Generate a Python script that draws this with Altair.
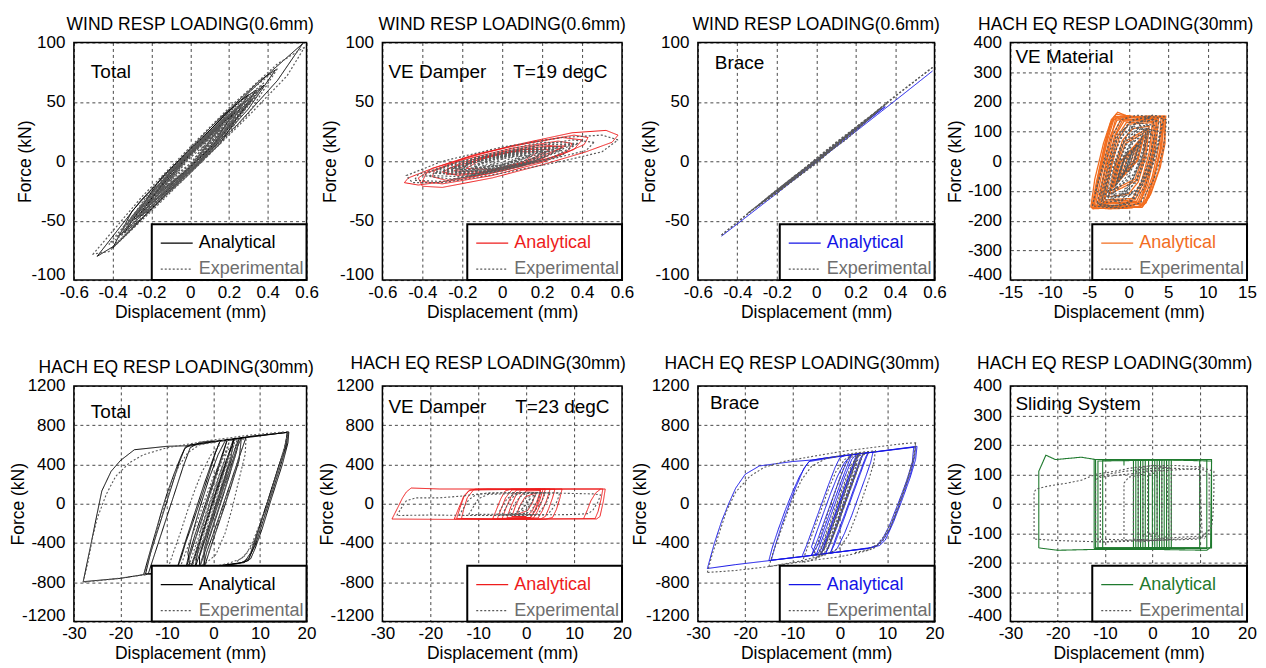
import altair as alt
import pandas as pd

FONT = "Liberation Sans"
SERIES = ["Analytical", "Experimental"]
EXP_GRAY = "#595959"
EXP_TEXT = "#6e6e6e"

# ---------------- axis ticks ----------------
X_WIND = [-0.6, -0.4, -0.2, 0, 0.2, 0.4, 0.6]
Y_WIND = [-100, -50, 0, 50, 100]
X_MAT = [-15, -10, -5, 0, 5, 10, 15]
Y_400 = [-400, -300, -200, -100, 0, 100, 200, 300, 400]
X_EQ = [-30, -20, -10, 0, 10, 20]
Y_EQ = [-1200, -800, -400, 0, 400, 800, 1200]

# ---------------- Panel 1: Total, wind ----------------
WIND_TOTAL_ANA = [
    [(0.58, 99), (0.42, 76), (0.2, 42), (0, 10), (-0.25, -32), (-0.48, -80), (-0.40, -72), (-0.2, -40), (0, -8), (0.25, 32), (0.45, 68), (0.58, 99)],
    [(0.44, 77), (0.36, 68), (0.15, 36), (-0.1, -6), (-0.3, -42), (-0.40, -73), (-0.33, -62), (-0.1, -24), (0.1, 8), (0.3, 44), (0.44, 77)],
    [(0.34, 60), (0.25, 50), (0.05, 18), (-0.15, -14), (-0.34, -60), (-0.25, -48), (-0.05, -16), (0.15, 14), (0.34, 60)],
    [(0.30, 56), (0.18, 40), (0, 8), (-0.2, -26), (-0.30, -50), (-0.2, -40), (0, -8), (0.18, 24), (0.30, 56)],
    [(0.26, 48), (0.1, 24), (-0.1, -10), (-0.26, -44), (-0.1, -22), (0.1, 12), (0.26, 48)],
    [(0.22, 40), (0.05, 14), (-0.12, -13), (-0.22, -36), (-0.05, -12), (0.12, 14), (0.22, 40)],
    [(0.16, 30), (0, 6), (-0.16, -26), (0, -5), (0.16, 30)],
    [(0.32, 52), (0.12, 26), (-0.08, -8), (-0.28, -48), (-0.1, -20), (0.1, 10), (0.32, 52)],
    [(0.38, 64), (0.2, 38), (0, 6), (-0.2, -30), (-0.36, -62), (-0.2, -38), (0, -6), (0.2, 28), (0.38, 64)],
]
WIND_TOTAL_EXP = [
    [(0.59, 96), (0.45, 82), (0.2, 45), (0, 12), (-0.25, -30), (-0.50, -78), (-0.42, -76), (-0.2, -42), (0, -10), (0.3, 38), (0.5, 72), (0.59, 96)],
    [(0.45, 78), (0.3, 58), (0.1, 24), (-0.1, -8), (-0.38, -62), (-0.42, -70), (-0.3, -56), (-0.1, -24), (0.1, 6), (0.3, 40), (0.45, 78)],
    [(0.36, 62), (0.2, 40), (0, 10), (-0.2, -24), (-0.35, -58), (-0.2, -40), (0, -10), (0.2, 24), (0.36, 62)],
    [(0.32, 54), (0.15, 32), (-0.05, 2), (-0.32, -52), (-0.15, -32), (0.05, -2), (0.32, 54)],
    [(0.28, 50), (0.1, 22), (-0.1, -8), (-0.28, -48), (-0.1, -24), (0.1, 8), (0.28, 50)],
    [(0.24, 42), (0.05, 14), (-0.24, -40), (-0.05, -14), (0.24, 42)],
    [(0.2, 38), (0, 8), (-0.2, -34), (0, -8), (0.2, 38)],
    [(0.15, 28), (0, 5), (-0.15, -25), (0, -4), (0.15, 28)],
    [(0.1, 20), (0, 4), (-0.1, -16), (0, -3), (0.1, 20)],
    [(0.27, 44), (0.08, 20), (-0.12, -10), (-0.3, -50), (-0.12, -26), (0.08, 4), (0.27, 44)],
    [(0.22, 34), (0.02, 10), (-0.22, -38), (-0.02, -10), (0.22, 34)],
    [(0.18, 36), (-0.02, 4), (-0.18, -30), (0.02, -3), (0.18, 36)],
    [(0.34, 58), (0.18, 36), (-0.02, 6), (-0.2, -30), (-0.33, -54), (-0.18, -36), (0.02, -6), (0.2, 30), (0.34, 58)],
    [(0.3, 48), (0.12, 24), (-0.08, -4), (-0.26, -40), (-0.08, -16), (0.12, 14), (0.3, 48)],
    [(0.25, 46), (0.06, 16), (-0.14, -16), (-0.25, -46), (-0.06, -16), (0.14, 16), (0.25, 46)],
    [(0.2, 32), (0.04, 12), (-0.2, -30), (-0.04, -12), (0.2, 32)],
    [(0.12, 24), (-0.04, 2), (-0.12, -22), (0.04, -2), (0.12, 24)],
    [(0.38, 66), (0.22, 44), (0, 8), (-0.22, -30), (-0.38, -64), (-0.22, -44), (0, -8), (0.22, 30), (0.38, 66)],
    [(0.08, 14), (0, 3), (-0.08, -12), (0, -2), (0.08, 14)],
    [(0.3, 52), (0.14, 30), (-0.04, 2), (-0.3, -46), (-0.14, -28), (0.04, -2), (0.3, 52)],
    [(0.16, 26), (0, 6), (-0.16, -24), (0, -6), (0.16, 26)],
    [(0.35, 56), (0.16, 28), (-0.05, -2), (-0.35, -56), (-0.16, -30), (0.05, 0), (0.35, 56)],
]

# ---------------- Panel 2: VE damper, wind ----------------
WIND_VED_ANA = [
    [(0.58, 22), (0.52, 26), (0.35, 24), (0.1, 15), (-0.15, 5), (-0.35, -6), (-0.42, -14), (-0.40, -21), (-0.3, -22), (-0.05, -14), (0.2, -3), (0.42, 8), (0.55, 16), (0.58, 22)],
    [(0.43, 20), (0.36, 22), (0.15, 16), (-0.1, 7), (-0.35, -6), (-0.47, -14), (-0.49, -18), (-0.42, -20), (-0.2, -15), (0.05, -6), (0.3, 6), (0.41, 14), (0.43, 20)],
    [(0.35, 15), (0.28, 17), (0.05, 11), (-0.2, 1), (-0.34, -8), (-0.35, -13), (-0.28, -16), (-0.05, -10), (0.2, 0), (0.33, 9), (0.35, 15)],
    [(0.3, 12), (0.2, 14), (0, 8), (-0.2, -1), (-0.3, -9), (-0.22, -12), (0, -7), (0.2, 2), (0.3, 12)],
    [(0.24, 10), (0.1, 10), (-0.1, 3), (-0.24, -8), (-0.1, -9), (0.1, -2), (0.24, 10)],
    [(0.18, 8), (0.05, 8), (-0.1, 2), (-0.18, -6), (-0.05, -7), (0.1, -1), (0.18, 8)],
    [(0.32, 13), (0.18, 12), (-0.02, 6), (-0.27, -6), (-0.28, -11), (-0.1, -10), (0.12, -1), (0.32, 13)],
    [(0.4, 18), (0.3, 20), (0.05, 13), (-0.2, 2), (-0.38, -10), (-0.4, -17), (-0.3, -19), (-0.05, -12), (0.2, -1), (0.36, 10), (0.4, 18)],
]
WIND_VED_EXP = [
    [(0.58, 18), (0.5, 22), (0.3, 20), (0, 12), (-0.3, 0), (-0.48, -12), (-0.45, -18), (-0.3, -18), (0, -10), (0.3, 0), (0.5, 8), (0.58, 18)],
    [(0.46, 16), (0.35, 18), (0.1, 11), (-0.2, 0), (-0.42, -11), (-0.44, -16), (-0.3, -17), (-0.05, -9), (0.25, 2), (0.42, 9), (0.46, 16)],
    [(0.36, 14), (0.2, 14), (-0.05, 6), (-0.3, -6), (-0.36, -12), (-0.2, -13), (0.05, -5), (0.3, 5), (0.36, 14)],
    [(0.3, 11), (0.15, 11), (-0.1, 3), (-0.3, -8), (-0.15, -11), (0.1, -3), (0.3, 11)],
    [(0.26, 10), (0.1, 9), (-0.1, 1), (-0.26, -8), (-0.1, -9), (0.1, -1), (0.26, 10)],
    [(0.22, 8), (0.05, 6), (-0.22, -7), (-0.05, -6), (0.22, 8)],
    [(0.16, 7), (0, 4), (-0.16, -6), (0, -4), (0.16, 7)],
    [(0.1, 5), (0, 3), (-0.1, -4), (0, -3), (0.1, 5)],
    [(0.28, 12), (0.08, 8), (-0.15, -1), (-0.32, -10), (-0.12, -10), (0.1, -2), (0.28, 12)],
    [(0.2, 9), (0, 5), (-0.2, -4), (-0.24, -9), (0, -6), (0.2, 9)],
    [(0.12, 7), (-0.05, 3), (-0.14, -5), (0.02, -4), (0.12, 7)],
    [(0.34, 13), (0.15, 11), (-0.1, 3), (-0.34, -10), (-0.15, -12), (0.1, -4), (0.34, 13)],
    [(0.24, 11), (0.05, 7), (-0.18, -2), (-0.28, -9), (-0.05, -8), (0.18, 1), (0.24, 11)],
    [(0.18, 9), (0, 6), (-0.18, -3), (-0.2, -8), (0, -5), (0.18, 4), (0.18, 9)],
    [(0.3, 9), (0.1, 7), (-0.12, 0), (-0.25, -6), (-0.1, -8), (0.12, -2), (0.3, 9)],
    [(0.14, 5), (0, 4), (-0.12, -2), (-0.14, -6), (0, -3), (0.14, 5)],
    [(0.38, 15), (0.2, 16), (0, 9), (-0.25, -2), (-0.4, -12), (-0.25, -15), (0, -8), (0.25, 3), (0.38, 15)],
    [(0.22, 12), (0.05, 9), (-0.15, 1), (-0.22, -10), (-0.05, -8), (0.15, 0), (0.22, 12)],
    [(0.06, 4), (0, 2), (-0.06, -3), (0, -1), (0.06, 4)],
]

# ---------------- Panel 3: Brace, wind ----------------
WIND_BRACE_ANA = [
    [(-0.48, -63), (-0.2, -27), (0, -1), (0.2, 25), (0.4, 51), (0.59, 76)],
    [(0.35, 46), (0.1, 13), (-0.1, -13), (-0.3, -38), (-0.1, -12), (0.1, 14), (0.35, 46)],
]
WIND_BRACE_EXP = [
    [(-0.48, -62), (-0.3, -38), (0, 0), (0.3, 41), (0.45, 61), (0.59, 79)],
    [(0.59, 79), (0.4, 55), (0.2, 28), (0, 1), (-0.2, -24), (-0.48, -62)],
    [(0.36, 49), (0.2, 28), (0, 2), (-0.2, -25), (-0.35, -44), (-0.2, -27), (0, -1), (0.2, 26), (0.36, 49)],
    [(0.3, 41), (0.1, 15), (-0.1, -12), (-0.3, -38), (-0.1, -14), (0.1, 13), (0.3, 41)],
    [(0.25, 35), (0, 2), (-0.25, -32), (0, -2), (0.25, 35)],
    [(0.2, 28), (0, 1), (-0.2, -26), (0, -1), (0.2, 28)],
    [(0.33, 45), (0.1, 16), (-0.15, -18), (-0.28, -35), (-0.1, -11), (0.15, 18), (0.33, 45)],
]

# ---------------- Panel 4: VE material, earthquake ----------------
EQ_VEM_ANA = [
    [(-4.8, -155), (-4.3, -60), (-3.2, 60), (-2.2, 140), (-1.4, 165), (0, 150), (2.5, 152), (4.6, 150), (4.6, 60), (4.0, -20), (2.8, -110), (1.8, -150), (0, -158), (-2.5, -160), (-4.8, -155)],
    [(-4.5, -150), (-3.8, -40), (-2.8, 80), (-2.0, 140), (-1, 152), (1, 150), (3, 150), (4.4, 148), (4.2, 50), (3.2, -60), (2.2, -140), (1, -155), (-2, -152), (-4.5, -150)],
    [(-4.2, -148), (-3.4, -40), (-2.4, 80), (-1.5, 138), (0.5, 148), (4.1, 150), (3.9, 60), (3.0, -50), (1.8, -140), (0, -150), (-4.2, -148)],
    [(-3.8, -145), (-3.0, -30), (-2.0, 90), (-1.0, 140), (3.8, 145), (3.4, 40), (2.4, -80), (1.4, -140), (-3.8, -145)],
    [(-3.4, -140), (-2.6, -20), (-1.6, 90), (-0.6, 135), (3.4, 140), (3.0, 30), (2.0, -80), (1.0, -135), (-3.4, -140)],
    [(-3.0, -130), (-2.2, -20), (-1.2, 80), (0, 125), (3.0, 130), (2.6, 30), (1.6, -70), (0.5, -125), (-3.0, -130)],
    [(-2.6, -120), (-1.8, -20), (-0.8, 70), (0.5, 110), (2.6, 118), (2.2, 20), (1.2, -70), (0, -110), (-2.6, -120)],
    [(-2.2, -100), (-1.4, -10), (-0.4, 60), (2.2, 100), (1.8, 10), (0.8, -60), (-2.2, -100)],
    [(-1.8, -80), (-1.0, 0), (1.8, 80), (1.0, 0), (-1.8, -80)],
    [(-4.6, -160), (-4.0, -80), (-3.0, 40), (-2.4, 120), (-1.8, 150), (2, 145), (4.5, 152), (4.3, 80), (3.5, -20), (2.4, -120), (1.5, -152), (-4.6, -160)],
    [(-4.0, -150), (-3.3, -60), (-2.5, 50), (-1.6, 150), (1.5, 148), (3.6, 150), (3.3, 60), (2.6, -40), (1.6, -130), (0.5, -150), (-4.0, -150)],
    [(-1.2, -60), (-0.5, 10), (1.2, 60), (0.5, -10), (-1.2, -60)],
    [(-4.7, -158), (-4.1, -70), (-3.1, 50), (-2.3, 130), (-1.6, 158), (1, 150), (4.7, 152), (4.5, 70), (3.8, -30), (2.6, -120), (1.7, -155), (-4.7, -158)],
    [(-4.4, -152), (-3.7, -50), (-2.7, 70), (-1.9, 140), (0, 150), (4.3, 148), (4.0, 40), (3.1, -60), (2.0, -145), (-4.4, -152)],
    [(-3.6, -142), (-2.8, -30), (-1.8, 85), (-0.8, 138), (3.6, 142), (3.2, 40), (2.2, -80), (1.2, -138), (-3.6, -142)],
    [(-3.2, -135), (-2.4, -25), (-1.4, 85), (-0.3, 130), (3.2, 135), (2.8, 30), (1.8, -75), (0.8, -130), (-3.2, -135)],
    [(-2.4, -110), (-1.6, -15), (-0.6, 65), (2.4, 110), (2.0, 15), (1.0, -65), (-2.4, -110)],
    [(-2.0, -90), (-1.2, -5), (2.0, 90), (1.2, 5), (-2.0, -90)],
    [(-1.4, -70), (-0.7, 5), (1.4, 70), (0.7, -5), (-1.4, -70)],
    [(-0.8, -45), (-0.2, 10), (0.8, 45), (0.2, -10), (-0.8, -45)],
]
EQ_VEM_EXP = [
    [(-4.6, -150), (-3.8, -60), (-2.5, 60), (-1, 140), (1, 155), (3, 150), (4.8, 140), (4.4, 40), (3.2, -60), (1.5, -140), (-1, -158), (-3, -155), (-4.6, -150)],
    [(-4.0, -140), (-3.0, -30), (-1.5, 80), (0.5, 140), (2.5, 148), (4.2, 130), (3.5, 20), (2, -90), (0, -145), (-2.5, -150), (-4.0, -140)],
    [(-3.4, -130), (-2.4, -20), (-1, 80), (1, 130), (3.5, 120), (2.8, 20), (1.5, -80), (-0.5, -130), (-3.4, -130)],
    [(-2.8, -120), (-1.8, -20), (-0.5, 70), (1.2, 110), (2.8, 100), (2.2, 10), (1, -70), (-1, -115), (-2.8, -120)],
    [(-2.2, -100), (-1.2, -10), (0.2, 60), (2.2, 90), (1.5, 0), (0.2, -60), (-2.2, -100)],
    [(-1.6, -80), (-0.6, 0), (1.6, 75), (0.6, 0), (-1.6, -80)],
    [(-1.0, -60), (-0.2, 0), (1.0, 55), (0.2, 0), (-1.0, -60)],
    [(-3.0, -90), (-2, 20), (-0.5, 100), (2, 120), (3.2, 80), (2.4, -20), (0.8, -110), (-1.5, -120), (-3.0, -90)],
    [(-2.0, -130), (-1.2, -40), (0, 50), (1.5, 130), (2.5, 150), (1.8, 40), (0.5, -60), (-1, -140), (-2, -130)],
    [(-4.2, -100), (-3, 0), (-1.5, 90), (0, 120), (4.0, 100), (3, -10), (1, -100), (-2, -120), (-4.2, -100)],
    [(-0.6, -40), (0, 0), (0.6, 40), (0, 0), (-0.6, -40)],
    [(-3.8, -145), (-2.8, -40), (-1.5, 70), (0, 130), (2, 150), (3.8, 130), (3.2, 30), (1.8, -80), (0, -140), (-2, -150), (-3.8, -145)],
    [(-2.5, -110), (-1.5, -20), (-0.2, 60), (1.5, 110), (2.5, 100), (1.8, 10), (0.5, -60), (-1, -110), (-2.5, -110)],
    [(-1.8, -95), (-0.8, -10), (0.5, 60), (1.8, 95), (0.8, 10), (-0.5, -60), (-1.8, -95)],
    [(-1.3, -70), (-0.3, 0), (1.3, 70), (0.3, 0), (-1.3, -70)],
    [(-3.6, -150), (-2.6, -60), (-1.2, 40), (0.5, 120), (3, 155), (4.5, 150), (3.8, 60), (2.5, -40), (0.5, -130), (-1.5, -155), (-3.6, -150)],
    [(-0.4, -30), (0, 5), (0.4, 30), (0, -5), (-0.4, -30)],
    [(-3.2, -140), (-2.2, -40), (-0.8, 60), (0.8, 130), (3.2, 140), (2.4, 40), (1, -60), (-0.8, -130), (-3.2, -140)],
    [(-2.6, -125), (-1.6, -30), (-0.2, 70), (1.4, 120), (2.6, 120), (1.8, 20), (0.4, -70), (-1.2, -120), (-2.6, -125)],
    [(-2, -110), (-1, -20), (0.3, 60), (2, 110), (1.2, 20), (-0.2, -60), (-2, -110)],
    [(-1.5, -60), (-0.5, 20), (1.5, 60), (0.5, -20), (-1.5, -60)],
]

# ---------------- Panel 5: Total, earthquake ----------------
EQ_TOTAL_ANA = [
    [(-28, -794), (-26.5, -450), (-25, -100), (-24, 130), (-22, 330), (-20, 440), (-17, 550), (-10, 585), (-6, 590), (0, 635), (8, 685), (16, 728), (15.7, 600), (14.5, 400), (12.5, 100), (10.5, -200), (9, -420), (7.5, -560), (6, -600), (0, -640), (-10, -695), (-15, -722), (-20, -760), (-28, -794)],
    [(-15, -722), (-14, -550), (-12.5, -300), (-11, -50), (-10, 100), (-8.5, 300), (-7, 480), (-6, 580), (0, 630), (7, 676), (6.3, 580), (4, 260), (2, -20), (0, -300), (-1.5, -500), (-2.2, -650), (-10, -700), (-15, -722)],
    [(-14.6, -715), (-13.5, -500), (-11.5, -200), (-9.5, 100), (-7.5, 400), (-6.2, 560), (-5, 600), (5, 660), (16.2, 730), (16, 620), (14.8, 400), (12.5, 60), (10.5, -250), (9, -450), (8, -560), (6.5, -600), (0, -640), (-10, -700), (-14.6, -715)],
    [(15.8, 726), (15.5, 580), (14, 380), (12, 80), (10, -220), (8.8, -420), (7.5, -580), (5, -612), (2, -630), (-2, -650), (-5, -660), (-5.5, -500), (-4.5, -300), (-3, -50), (-1, 250), (1, 500), (2.5, 640), (8, 686), (15.8, 726)],
    [(-5, -668), (-3, -380), (-1, -100), (1, 190), (3, 470), (4.6, 666), (4, 600), (2, 300), (0, 20), (-2, -260), (-4, -540), (-5, -668)],
    [(-4, -662), (-2, -370), (0, -80), (2, 210), (3.8, 480), (4.3, 660), (3, 470), (1, 190), (-1, -100), (-3, -390), (-4, -662)],
    [(-3, -656), (-1.5, -440), (0.5, -150), (2, 70), (3.5, 300), (5, 540), (5.5, 670), (4.5, 540), (3, 330), (1, 40), (-1, -250), (-3, -540), (-3, -656)],
    [(-2, -651), (-0.5, -430), (1, -220), (2.5, -10), (4, 210), (5.5, 440), (6, 673), (5, 560), (3, 280), (1, 0), (-1, -290), (-2, -460), (-2, -651)],
    [(-6, -673), (-5, -520), (-3.5, -300), (-1.5, -10), (0.5, 280), (2, 500), (3, 657), (2, 520), (0, 240), (-2, -40), (-4, -320), (-5.5, -560), (-6, -673)],
    [(-8, -684), (-7, -560), (-6, -400), (-4.5, -200), (-2.5, 80), (-1, 300), (0.5, 530), (1.5, 648), (0, 470), (-2, 200), (-4, -90), (-6, -380), (-7, -530), (-8, -684)],
    [(-14, -712), (-12, -420), (-10, -130), (-8, 160), (-6.5, 380), (-5, 570), (-3, 625), (0, 640)],
    [(16, 728), (15.2, 560), (13.5, 300), (11.5, 0), (9.5, -280), (8, -500), (6.5, -604)],
]
EQ_TOTAL_EXP = [
    [(-28, -800), (-27, -600), (-26, -350), (-25, -150), (-23, 100), (-21, 280), (-18, 420), (-15, 500), (-10, 570), (-5, 610), (0, 650), (8, 700), (16, 735), (15.5, 620), (14.5, 450), (13, 200), (11, -100), (9.5, -300), (8, -450), (6, -560), (3, -610), (0, -640), (-8, -690), (-15, -725), (-22, -770), (-28, -800)],
    [(-15, -725), (-13.5, -500), (-12, -250), (-10.5, 0), (-9, 200), (-7.5, 380), (-5.5, 520), (-3, 600), (2, 640), (7, 660), (6.8, 500), (5.5, 250), (4, -50), (2.5, -300), (0.5, -520), (-2, -620), (-8, -680), (-15, -725)],
    [(-7.5, -690), (-6, -500), (-4, -250), (-2, 20), (0, 280), (2, 480), (4, 600), (5, 640), (4, 450), (2, 180), (0, -100), (-2, -360), (-4, -560), (-6, -660), (-7.5, -690)],
    [(-5, -660), (-3.5, -450), (-1.5, -180), (0.5, 100), (2.5, 360), (4, 540), (4.5, 620), (3.5, 440), (1.5, 160), (-0.5, -130), (-2.5, -400), (-4, -580), (-5, -660)],
    [(-3, -640), (-1.5, -420), (0.5, -130), (2, 100), (3.5, 330), (5, 560), (5.5, 640), (4.5, 460), (3, 230), (1, -60), (-1, -350), (-2.5, -560), (-3, -640)],
    [(-4, -500), (-2, -200), (0, 80), (2, 350), (3.5, 520), (2.5, 350), (0.5, 60), (-1.5, -220), (-3, -420), (-4, -500)],
    [(-2, -400), (0, -120), (2, 160), (3, 300), (1.5, 100), (-0.5, -180), (-2, -400)],
    [(16, 735), (15.8, 650), (14.8, 480), (13.2, 250), (11.5, 0), (10, -200), (8.5, -380), (7, -520), (5, -590)],
    [(-10, -690), (-8.5, -480), (-7, -280), (-5.5, -60), (-4, 140), (-2.5, 320), (-0.5, 500), (1.5, 610)],
    [(-6, -670), (-4.5, -450), (-2.5, -170), (-0.5, 120), (1.5, 400), (3, 580), (3.5, 650), (2.5, 470), (0.5, 180), (-1.5, -100), (-3.5, -380), (-5, -590), (-6, -670)],
    [(-1, -500), (0.5, -280), (2, -60), (3.5, 160), (5, 390), (6, 560), (5, 400), (3.5, 180), (2, -40), (0.5, -260), (-1, -500)],
    [(-3, -300), (-1.5, -80), (0, 130), (1.5, 330), (2.5, 450), (1, 250), (-0.5, 40), (-2, -170), (-3, -300)],
]

# ---------------- Panel 6: VE damper, earthquake ----------------
EQ_VED_ANA = [
    [(-28, -156), (-26.8, -40), (-25.8, 60), (-25, 120), (-24, 160), (-18, 150), (-10, 150), (0, 148), (10, 150), (16.5, 150), (16.1, 24), (15.4, -130), (14.7, -155), (5, -155), (-5, -160), (-15, -160), (-28, -156)],
    [(-15, -155), (-14.2, -60), (-13.5, 20), (-13, 80), (-12, 130), (-10.5, 150), (0, 150), (16, 150), (15.6, 40), (15, -80), (14.4, -150), (0, -158), (-15, -155)],
    [(-14.5, -150), (-13.8, -40), (-13, 70), (-11.8, 140), (-8, 150), (5, 148), (7.5, 150), (7, 50), (6.3, -60), (5.5, -140), (4, -158), (-5, -160), (-14.5, -150)],
    [(-13.5, -150), (-13, -50), (-12.3, 60), (-11, 140), (3, 150), (2.6, 40), (1.8, -70), (1, -140), (-5, -155), (-13.5, -150)],
    [(-6, -150), (-5.2, -50), (-4.3, 60), (-3, 140), (5, 150), (4.3, 40), (3.4, -70), (2.5, -145), (-6, -150)],
    [(-5, -150), (-4.2, -40), (-3.2, 70), (-2, 140), (4, 148), (3.3, 30), (2.3, -80), (1.5, -148), (-5, -150)],
    [(-4, -140), (-3.2, -30), (-2.2, 80), (-1, 140), (3.5, 145), (2.8, 30), (1.8, -80), (0.8, -140), (-4, -140)],
    [(-3, -130), (-2.2, -20), (-1.2, 80), (0, 130), (3, 135), (2.2, 20), (1.2, -80), (0, -130), (-3, -130)],
    [(-2, -110), (-1.2, -10), (-0.2, 70), (2, 110), (1.3, 10), (0.3, -70), (-2, -110)],
    [(-7, -155), (-6.2, -60), (-5.3, 50), (-4.4, 130), (-3, 150), (4, 150), (6, 148), (5.5, 60), (4.7, -50), (4, -130), (3, -155), (-7, -155)],
    [(12, -150), (12.8, -60), (13.5, 30), (14.5, 110), (15.5, 148)],
]
EQ_VED_EXP = [
    [(-27, -120), (-26, -40), (-25, 30), (-23, 60), (-18, 60), (-13, 80), (-10, 100), (-5, 110), (0, 115), (5, 110), (14, 100), (15.5, 90), (15, 20), (14, -60), (13, -100), (10, -110), (0, -115), (-10, -120), (-20, -115), (-27, -120)],
    [(-14, -120), (-13, -40), (-12, 40), (-10.5, 90), (-8, 110), (0, 115), (7, 110), (6.5, 30), (5.5, -50), (4.5, -110), (0, -120), (-14, -120)],
    [(-5, -110), (-4, -20), (-3, 60), (-1.5, 110), (4, 110), (3.2, 20), (2, -60), (1, -110), (-5, -110)],
    [(-3.5, -100), (-2.5, -10), (-1.3, 70), (0, 105), (3, 100), (2.2, 10), (1, -70), (0, -100), (-3.5, -100)],
    [(-2, -90), (-1, 0), (0, 60), (2, 90), (1, 0), (0, -60), (-2, -90)],
    [(-1, -60), (0, 10), (1, 60), (0, -10), (-1, -60)],
    [(-6, -115), (-5, -30), (-4, 50), (-2.5, 100), (5, 110), (4.3, 20), (3.2, -60), (2.2, -110), (-6, -115)],
    [(-12, -110), (-11, -30), (-10, 50), (-8, 95), (2, 110), (1.3, 30), (0.5, -50), (-0.5, -105), (-12, -110)],
]

# ---------------- Panel 7: Brace, earthquake ----------------
EQ_BRACE_ANA = [
    [(-28, -660), (-26.5, -400), (-25, -180), (-23.5, 0), (-22, 160), (-20, 300), (-17, 385), (-10, 430), (-6, 445), (0, 485), (8, 532), (16, 580), (15.8, 480), (15, 320), (13.5, 120), (12, -80), (10.5, -260), (9, -380), (8, -420), (6, -455), (0, -490), (-10, -550), (-15, -580), (-22, -620), (-28, -660)],
    [(-15, -578), (-14.3, -450), (-13, -260), (-11.5, -60), (-10, 120), (-8.5, 280), (-7, 400), (-6.3, 440), (-3, 467), (0, 485), (7, 525), (6.5, 420), (5.5, 280), (4, 80), (2.5, -120), (1, -300), (-0.5, -450), (-1.5, -500), (-8, -540), (-15, -578)],
    [(-14.5, -575), (-13.6, -420), (-12.3, -220), (-10.8, -20), (-9.2, 180), (-7.6, 360), (-6.5, 430), (0, 482), (16.3, 585), (16, 450), (14.8, 260), (13, 20), (11.3, -190), (9.6, -370), (8.4, -425), (6, -455), (-5, -520), (-14.5, -575)],
    [(15.6, 575), (15.3, 420), (14, 220), (12.3, 0), (10.5, -220), (9, -360), (7.5, -440), (0, -490), (-5, -520), (-6, -440), (-5, -300), (-3.5, -100), (-2, 100), (-0.5, 280), (1, 420), (2.5, 500), (8, 530), (15.6, 575)],
    [(-5, -520), (-3.5, -330), (-2, -130), (-0.5, 70), (1, 270), (2.5, 450), (3.5, 506), (2.8, 400), (1.5, 230), (0, 30), (-1.5, -170), (-3, -360), (-4.2, -480), (-5, -520)],
    [(-4, -514), (-2.5, -320), (-1, -120), (0.5, 80), (2, 280), (3.3, 450), (4, 509), (3, 380), (1.5, 180), (0, -20), (-1.5, -220), (-3, -400), (-4, -514)],
    [(-3, -508), (-1.5, -320), (0, -120), (1.5, 80), (3, 280), (4.3, 460), (5, 515), (4, 390), (2.5, 190), (1, -10), (-0.5, -210), (-2, -400), (-3, -508)],
    [(-2, -502), (-0.5, -300), (1, -110), (2.5, 90), (4, 290), (5.5, 480), (6, 520), (4.8, 370), (3.3, 170), (1.8, -30), (0.3, -230), (-1.2, -420), (-2, -502)],
    [(-6, -525), (-4.5, -340), (-3, -140), (-1.5, 60), (0, 260), (1.5, 440), (2.5, 500), (1.5, 380), (0, 190), (-1.5, -10), (-3, -210), (-4.5, -410), (-6, -525)],
    [(-8, -537), (-7, -420), (-5.5, -220), (-4, -20), (-2.5, 180), (-1, 370), (0, 470), (1, 490)],
]
EQ_BRACE_EXP = [
    [(-28, -700), (-27, -520), (-25.5, -300), (-24, -80), (-22, 120), (-19, 280), (-16, 370), (-12, 430), (-6, 480), (0, 530), (8, 580), (14, 615), (16, 620), (15.8, 500), (15, 350), (13.7, 150), (12.2, -60), (10.6, -250), (9, -380), (7, -460), (4, -500), (0, -540), (-8, -590), (-15, -640), (-22, -680), (-28, -700)],
    [(-15, -640), (-14, -480), (-12.5, -280), (-11, -80), (-9.5, 100), (-8, 250), (-6, 380), (-3, 460), (2, 510), (7.5, 540), (7.2, 420), (6.2, 260), (4.8, 60), (3.3, -140), (1.8, -320), (0, -450), (-3, -520), (-9, -590), (-15, -640)],
    [(-8, -600), (-6.8, -440), (-5.3, -240), (-3.8, -40), (-2.3, 160), (-0.8, 330), (1, 450), (3, 510), (4.2, 520), (3.4, 380), (2, 180), (0.5, -20), (-1, -220), (-2.5, -400), (-4, -520), (-6, -580), (-8, -600)],
    [(-5, -560), (-3.5, -380), (-2, -180), (-0.5, 20), (1, 220), (2.5, 400), (4, 500), (5, 520), (4, 380), (2.5, 180), (1, -20), (-0.5, -220), (-2, -400), (-3.5, -520), (-5, -560)],
    [(-3.5, -480), (-2, -280), (-0.5, -80), (1, 120), (2.5, 320), (3.5, 440), (2.5, 300), (1, 100), (-0.5, -100), (-2, -300), (-3.5, -480)],
    [(-2, -380), (-0.5, -180), (1, 20), (2.5, 220), (3, 300), (1.5, 100), (0, -100), (-1.5, -300), (-2, -380)],
    [(16, 620), (15.5, 450), (14.3, 250), (12.8, 50), (11.3, -150), (9.5, -320), (8, -410), (6, -470), (3, -500)],
    [(-6, -580), (-5, -450), (-3.6, -250), (-2.2, -50), (-0.8, 150), (0.7, 350), (2, 470), (6, 510)],
    [(-4.5, -540), (-3, -340), (-1.5, -140), (0, 60), (1.5, 260), (3, 430), (3.8, 500), (2.8, 340), (1.3, 140), (-0.2, -60), (-1.7, -260), (-3.2, -450), (-4.5, -540)],
    [(-2.5, -460), (-1, -260), (0.5, -60), (2, 140), (3.5, 340), (4.5, 470), (3.5, 320), (2, 120), (0.5, -80), (-1, -280), (-2.5, -460)],
]

# ---------------- Panel 8: Sliding system, earthquake ----------------
EQ_SLIDE_ANA = [
    [(-24, -150), (-24, 110), (-22.5, 165), (-20.5, 150), (-17, 155), (-15, 158), (-12, 150), (0, 150), (12.5, 145), (12.4, 0), (12.3, -148), (11.5, -158), (0, -155), (-12, -155), (-20, -158), (-24, -150)],
    [(-12, -150), (-12, 150), (12.5, 150), (12.5, -150), (-12, -150)],
    [(-11.5, -150), (-11.5, 145), (10, 150), (10, -150), (-11.5, -150)],
    [(-10.5, -150), (-10.5, 148), (-6, 148), (-6, 130)],
    [(-3.5, -152), (-3.5, 150), (3.5, 150), (3.5, -152), (-3.5, -152)],
    [(-3, -150), (-3, 148), (2.5, 150), (2.5, -150), (-3, -150)],
    [(-2, -150), (-2, 150), (2, 150), (2, -150), (-2, -150)],
    [(-1.5, -150), (-1.5, 150), (1, 150), (1, -150), (-1.5, -150)],
    [(-0.8, -150), (-0.8, 150), (0.5, 150), (0.5, -150), (-0.8, -150)],
    [(0, -150), (0, 150), (1.5, 150), (1.5, -150), (0, -150)],
    [(-4, -150), (-4, 148), (4, 150), (4, -150), (-4, -150)],
    [(-12.3, -152), (-12.3, 150), (11.5, 150), (11.5, -152), (-12.3, -152)],
    [(-2.5, -150), (-2.5, 150), (3, 150), (3, -150)],
]
EQ_SLIDE_EXP = [
    [(-25, -120), (-25, 40), (-24.5, 50), (-22, 60), (-18, 70), (-15, 80), (-12, 100), (-8, 110), (-5, 120), (0, 130), (5, 130), (10, 125), (13, 110), (13, 40), (12.8, -40), (12.5, -80), (10, -120), (0, -125), (-10, -130), (-20, -125), (-25, -120)],
    [(-12, -120), (-12, 80), (-11, 95), (-6, 110), (0, 120), (5, 120), (11, 115), (12, 100), (12, -100), (11, -115), (0, -125), (-12, -120)],
    [(-4, -120), (-4, 100), (-3, 115), (3, 125), (3.5, -110), (0, -125), (-4, -120)],
    [(-2, -110), (-2, 110), (2, 115), (2, -110), (-2, -110)],
    [(-1, -100), (-1, 100), (1, 105), (1, -100), (-1, -100)],
    [(-3, -130), (-3, 120), (0, 130), (4, 120), (4, -120), (-3, -130)],
    [(10, 125), (10.5, -100), (11, -120)],
    [(-11, -130), (-11, 90), (0, 110), (10, 120), (10, -110), (-11, -130)],
    [(-6, -120), (-6, 70), (-5, 90), (-2, 100)],
]

# ---------------- panel descriptions ----------------
COL_W = [233, 240, 237, 237]
ROW_H = [238, 236]

PANELS = [
    dict(title="WIND RESP LOADING(0.6mm)", ana=WIND_TOTAL_ANA, exp=WIND_TOTAL_EXP, color="#000000",
         xdom=[-0.6, 0.6], xt=X_WIND, ydom=[-100, 100], yt=Y_WIND, labels=[("Total", 17, 36)],
         dx=0, off=0, ytx=-48.5, aw=1.0, ew=1.2),
    dict(title="WIND RESP LOADING(0.6mm)", ana=WIND_VED_ANA, exp=WIND_VED_EXP, color="#ee1c1c",
         xdom=[-0.6, 0.6], xt=X_WIND, ydom=[-100, 100], yt=Y_WIND,
         labels=[("VE Damper", 6, 36), ("T=19 degC", 131, 36)], dx=0, off=0, ytx=-52, aw=1.0, ew=1.2),
    dict(title="WIND RESP LOADING(0.6mm)", ana=WIND_BRACE_ANA, exp=WIND_BRACE_EXP, color="#1414e6",
         xdom=[-0.6, 0.6], xt=X_WIND, ydom=[-100, 100], yt=Y_WIND, labels=[("Brace", 17, 27)],
         dx=0, off=0, ytx=-48.5, aw=1.0, ew=1.2),
    dict(title="HACH EQ RESP LOADING(30mm)", ana=EQ_VEM_ANA, exp=EQ_VEM_EXP, color="#f26d1f",
         xdom=[-15, 15], xt=X_MAT, ydom=[-400, 400], yt=Y_400, labels=[("VE Material", 5, 21)],
         dx=-13, off=0, ytx=-54.5, aw=1.3, ew=1.2),
    dict(title="HACH EQ RESP LOADING(30mm)", ana=EQ_TOTAL_ANA, exp=EQ_TOTAL_EXP, color="#000000",
         xdom=[-30, 20], xt=X_EQ, ydom=[-1200, 1200], yt=Y_EQ, labels=[("Total", 17, 32)],
         dx=-14, off=0, ytx=-55.5, aw=1.0, ew=1.1),
    dict(title="HACH EQ RESP LOADING(30mm)", ana=EQ_VED_ANA, exp=EQ_VED_EXP, color="#ee1c1c",
         xdom=[-30, 20], xt=X_EQ, ydom=[-1200, 1200], yt=Y_EQ,
         labels=[("VE Damper", 6, 27), ("T=23 degC", 133, 27)], dx=-14, off=4, ytx=-54.5, aw=1.0, ew=1.1),
    dict(title="HACH EQ RESP LOADING(30mm)", ana=EQ_BRACE_ANA, exp=EQ_BRACE_EXP, color="#1414e6",
         xdom=[-30, 20], xt=X_EQ, ydom=[-1200, 1200], yt=Y_EQ, labels=[("Brace", 12, 23)],
         dx=-14, off=4, ytx=-57.5, aw=1.0, ew=1.1),
    dict(title="HACH EQ RESP LOADING(30mm)", ana=EQ_SLIDE_ANA, exp=EQ_SLIDE_EXP, color="#1f7a2e",
         xdom=[-30, 20], xt=X_EQ, ydom=[-400, 400], yt=Y_400, labels=[("Sliding System", 5, 24)],
         dx=-14, off=4, ytx=-54.5, aw=1.1, ew=1.1),
]


def to_frame(ana, exp):
    rows = []
    for series, loops in (("Analytical", ana), ("Experimental", exp)):
        for li, loop in enumerate(loops):
            for pi, (x, y) in enumerate(loop):
                rows.append({"series": series, "loop": f"{series[0]}{li}", "i": pi, "x": x, "y": y})
    return pd.DataFrame(rows)


def build(p, w, h):
    df = to_frame(p["ana"], p["exp"])
    legend = alt.Legend(
        orient="bottom-right", offset=0, symbolType="stroke", symbolSize=1024,
        symbolStrokeWidth=1.3, symbolOffset=6, labelFontSize=18, labelFont=FONT, labelOffset=5,
        labelLimit=300, padding=2, rowPadding=-12, fillColor="white", strokeColor="black",
        labelColor={"expr": f"datum.value === 'Analytical' ? '{p['color']}' : '{EXP_TEXT}'"},
    )
    ymin = p["ydom"][0]
    enc = dict(
        x=alt.X("x:Q", scale=alt.Scale(domain=p["xdom"], nice=False, zero=False),
                axis=alt.Axis(values=p["xt"], title="Displacement (mm)", labelExpr="'' + datum.value",
                              labelPadding=4, titlePadding=3)),
        y=alt.Y("y:Q", scale=alt.Scale(domain=p["ydom"], nice=False, zero=False),
                axis=alt.Axis(values=p["yt"], title="Force (kN)", labelExpr="'' + datum.value",
                              labelPadding=9, titleX=p["ytx"], titleY=h / 2,
                              titleAlign="center", titleBaseline="middle",
                              labelOffset={"condition": {"test": f"datum.value === {ymin}", "value": -6},
                                           "value": 0})),
        color=alt.Color("series:N", title=None,
                        scale=alt.Scale(domain=SERIES, range=[p["color"], EXP_GRAY]), legend=legend),
        strokeDash=alt.StrokeDash("series:N", title=None,
                                  scale=alt.Scale(domain=SERIES, range=[[1, 0], [2, 2]]), legend=legend),
        detail="loop:N",
        order="i:Q",
    )
    base = alt.Chart(df)
    layers = [
        base.transform_filter(alt.datum.series == "Analytical").mark_line(strokeWidth=p["aw"], clip=True).encode(**enc),
        base.transform_filter(alt.datum.series == "Experimental").mark_line(strokeWidth=p["ew"], clip=True).encode(**enc),
    ]
    for text, lx, ly in p["labels"]:
        layers.append(
            alt.Chart(pd.DataFrame({"t": [text]})).mark_text(
                align="left", baseline="alphabetic", fontSize=19, font=FONT, color="black"
            ).encode(x=alt.value(lx), y=alt.value(ly), text="t:N")
        )
    return alt.layer(*layers).properties(
        width=w, height=h,
        title=alt.TitleParams(p["title"], dx=p["dx"], offset=p["off"]),
    )


charts = [build(p, COL_W[k % 4], ROW_H[k // 4]) for k, p in enumerate(PANELS)]

chart = (
    alt.concat(*charts, columns=4, spacing={"row": 106, "column": 76}, bounds="flush")
    .resolve_scale(color="independent", strokeDash="independent", x="independent", y="independent")
    .resolve_legend(color="independent", strokeDash="independent")
    .properties(padding={"left": 0, "top": 6, "right": 0, "bottom": 0})
    .configure_view(stroke="black", strokeWidth=1.5)
    .configure_axis(
        grid=True, gridColor="#000000", gridDash=[3, 3], gridWidth=0.8, gridOpacity=0.9,
        ticks=False, domain=False, labelFont=FONT, labelFontSize=17, labelColor="black",
        titleFont=FONT, titleFontSize=17.5, titleFontWeight="normal", titleColor="black",
        labelFlush=False, labelOverlap=False,
    )
    .configure_title(font=FONT, fontSize=17.5, fontWeight="normal", color="black", anchor="middle")
    .configure_legend(strokeWidth=2)
)

chart.save("out.html", embed_options={"renderer": "svg", "actions": False})
